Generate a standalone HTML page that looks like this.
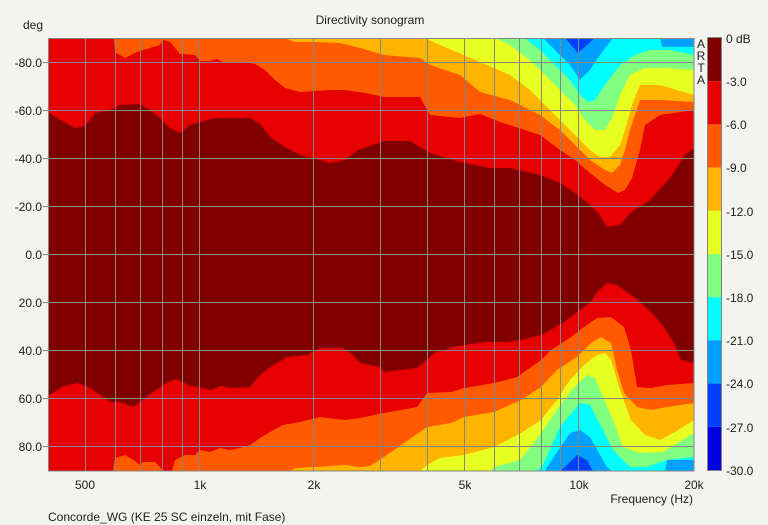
<!DOCTYPE html>
<html><head><meta charset="utf-8"><style>
html,body{margin:0;padding:0;background:#f3f3f0;}
svg{display:block;font-family:"Liberation Sans",sans-serif;font-size:12px;fill:#202020;}
</style></head><body>
<svg width="768" height="525" viewBox="0 0 768 525" xmlns="http://www.w3.org/2000/svg">
<rect x="0" y="0" width="768" height="525" fill="#f3f3f0"/>
<defs><clipPath id="pc"><rect x="48" y="38" width="646" height="433"/></clipPath></defs>
<g clip-path="url(#pc)">
<rect x="48" y="38" width="646" height="433" fill="#0040ff"/>
<!-- b8: light blue -->
<polygon fill="#00a0ff" points="48,38 565,38 578,53 595,38 694,38 694,471 593,471 587,460 577,455 565,467 560,471 48,471"/>
<!-- b7: cyan -->
<polygon fill="#00ffff" points="48,38 543,38 555,50 570,65 580,80 590,70 600,55 613,38 660,38 662,47 694,47 694,460 667,460 665,471 612,471 607,467 590,437 580,430 570,433 547,467 545,471 48,471"/>
<!-- b6: green -->
<polygon fill="#80ff80" points="48,38 525,38 540,50 555,65 570,80 580,95 588,102 595,100 605,85 620,65 635,55 650,50 670,50 694,55 694,457 667,460 647,467 630,467 613,450 603,430 590,405 580,403 560,427 542,467 535,471 48,471"/>
<!-- b5: yellow -->
<polygon fill="#e8ff22" points="48,38 495,38 510,45 530,60 545,75 560,90 575,105 585,120 595,130 605,130 612,118 620,95 630,75 645,68 665,68 694,70 694,433 663,452 640,453 623,447 613,420 603,397 595,378 587,375 570,392 557,410 540,435 520,460 495,467 490,471 48,471"/>
<!-- b4: orange -->
<polygon fill="#ffb400" points="48,38 425,38 440,45 464,55 480,62 510,75 530,90 545,105 560,120 575,135 590,150 600,157 610,157 620,145 625,130 632,105 640,85 660,85 694,95 694,420 675,432 660,440 645,435 631,420 620,390 611,360 605,353 597,355 584,365 570,380 557,400 541,420 521,433 494,447 464,455 440,458 427,465 420,471 48,471"/>
<!-- b3: orange-red -->
<polygon fill="#ff5a00" points="48,38 285,38 295,42 313,42 340,43 360,48 384,55 420,58 430,65 460,75 480,92 510,100 540,115 560,130 575,145 590,160 605,170 612,173 620,165 625,150 630,130 640,100 660,100 694,102 694,403 667,407 651,410 637,407 624,393 617,370 611,343 601,337 591,343 577,357 557,370 541,387 521,400 494,412 464,417 451,423 427,427 384,457 370,466 360,467 345,465 317,467 295,468 290,471 48,471"/>
<!-- b2: red -->
<polygon fill="#e60000" points="48,38 114,38 115,52 125,58 137,52 150,48 160,45 163,40 170,42 175,48 180,54 195,55 200,61 210,61 217,59 225,63 250,63 255,64 265,70 275,80 285,88 300,92 330,90 345,90 365,93 384,97 420,97 430,115 460,118 480,114 500,122 540,135 560,150 575,160 590,173 605,185 618,193 625,190 632,178 640,150 645,125 660,115 694,110 694,383 667,385 651,388 637,387 631,350 624,327 611,317 597,318 584,327 571,337 551,350 541,360 517,377 494,383 464,388 451,392 427,393 417,407 384,413 360,418 345,420 320,417 300,422 283,425 270,432 260,438 250,445 240,448 230,450 220,448 210,452 200,450 195,455 185,455 175,460 172,471 163,471 160,467 155,462 143,462 140,465 135,461 125,455 115,458 113,471 48,471"/>
<!-- b1: dark red -->
<polygon fill="#800000" points="48,112 60,120 75,128 85,126 95,113 110,110 120,105 140,104 150,110 160,118 170,128 180,133 190,125 200,122 215,118 250,118 260,124 270,137 285,147 300,155 313,158 330,163 345,160 358,150 384,141 410,141 430,153 460,162 490,168 510,168 540,175 560,183 575,193 590,205 600,215 607,227 620,225 630,213 650,200 670,178 685,155 694,148 694,363 681,360 674,343 664,327 651,312 634,297 617,285 607,283 597,292 591,302 577,312 564,322 547,332 541,335 521,340 507,342 484,342 464,345 454,347 434,353 427,360 417,368 384,372 380,367 360,363 353,355 343,348 320,348 307,355 287,357 270,367 260,375 250,387 233,388 220,386 210,390 200,387 190,386 177,379 168,382 153,392 143,400 133,407 120,402 110,402 100,395 90,388 78,383 63,386 53,393 48,395"/>
</g>
<!-- grid -->
<g stroke="#858585" stroke-width="1">
<line x1="48" y1="62.5" x2="694" y2="62.5"/><line x1="48" y1="110.5" x2="694" y2="110.5"/>
<line x1="48" y1="158.5" x2="694" y2="158.5"/><line x1="48" y1="206.5" x2="694" y2="206.5"/>
<line x1="48" y1="254.5" x2="694" y2="254.5"/><line x1="48" y1="302.5" x2="694" y2="302.5"/>
<line x1="48" y1="350.5" x2="694" y2="350.5"/><line x1="48" y1="398.5" x2="694" y2="398.5"/>
<line x1="48" y1="446.5" x2="694" y2="446.5"/>
<line x1="85.5" y1="38" x2="85.5" y2="471"/><line x1="115.5" y1="38" x2="115.5" y2="471"/>
<line x1="140.5" y1="38" x2="140.5" y2="471"/><line x1="162.5" y1="38" x2="162.5" y2="471"/>
<line x1="182.5" y1="38" x2="182.5" y2="471"/><line x1="199.5" y1="38" x2="199.5" y2="471"/>
<line x1="313.5" y1="38" x2="313.5" y2="471"/><line x1="380.5" y1="38" x2="380.5" y2="471"/>
<line x1="427.5" y1="38" x2="427.5" y2="471"/><line x1="464.5" y1="38" x2="464.5" y2="471"/>
<line x1="494.5" y1="38" x2="494.5" y2="471"/><line x1="519.5" y1="38" x2="519.5" y2="471"/>
<line x1="541.5" y1="38" x2="541.5" y2="471"/><line x1="560.5" y1="38" x2="560.5" y2="471"/>
<line x1="578.5" y1="38" x2="578.5" y2="471"/>
<line x1="43" y1="62.5" x2="48" y2="62.5"/><line x1="43" y1="110.5" x2="48" y2="110.5"/>
<line x1="43" y1="158.5" x2="48" y2="158.5"/><line x1="43" y1="206.5" x2="48" y2="206.5"/>
<line x1="43" y1="254.5" x2="48" y2="254.5"/><line x1="43" y1="302.5" x2="48" y2="302.5"/>
<line x1="43" y1="350.5" x2="48" y2="350.5"/><line x1="43" y1="398.5" x2="48" y2="398.5"/>
<line x1="43" y1="446.5" x2="48" y2="446.5"/>
</g>
<rect x="48.5" y="38.5" width="645.5" height="432.5" fill="none" stroke="#858585"/>
<!-- y labels -->
<g text-anchor="end">
<text x="42" y="67">-80.0</text><text x="42" y="115">-60.0</text><text x="42" y="163">-40.0</text>
<text x="42" y="211">-20.0</text><text x="42" y="259">0.0</text><text x="42" y="307">20.0</text>
<text x="42" y="355">40.0</text><text x="42" y="403">60.0</text><text x="42" y="451">80.0</text>
</g>
<text x="23" y="29">deg</text>
<text x="370" y="24" text-anchor="middle">Directivity sonogram</text>
<g text-anchor="middle">
<text x="85" y="489">500</text><text x="200" y="489">1k</text><text x="314" y="489">2k</text>
<text x="465" y="489">5k</text><text x="579" y="489">10k</text><text x="694" y="489">20k</text>
</g>
<text x="693" y="503" text-anchor="end">Frequency (Hz)</text>
<text x="48" y="521">Concorde_WG (KE 25 SC einzeln, mit Fase)</text>
<g text-anchor="middle"><text x="701" y="48">A</text><text x="701" y="60">R</text><text x="701" y="72">T</text><text x="701" y="84">A</text></g>
<!-- colorbar -->
<rect x="708" y="38" width="13" height="43.2" fill="#800000"/>
<rect x="708" y="81.2" width="13" height="43.2" fill="#e60000"/>
<rect x="708" y="124.4" width="13" height="43.2" fill="#ff5a00"/>
<rect x="708" y="167.6" width="13" height="43.2" fill="#ffb400"/>
<rect x="708" y="210.8" width="13" height="43.2" fill="#e8ff22"/>
<rect x="708" y="254" width="13" height="43.2" fill="#80ff80"/>
<rect x="708" y="297.2" width="13" height="43.2" fill="#00ffff"/>
<rect x="708" y="340.4" width="13" height="43.2" fill="#00a0ff"/>
<rect x="708" y="383.6" width="13" height="43.2" fill="#0040ff"/>
<rect x="708" y="426.8" width="13" height="43.2" fill="#0000e0"/>
<rect x="707.5" y="37.5" width="14" height="433" fill="none" stroke="#858585"/>
<g>
<text x="726" y="43">0 dB</text><text x="726" y="86">-3.0</text><text x="726" y="129">-6.0</text>
<text x="726" y="172">-9.0</text><text x="726" y="216">-12.0</text><text x="726" y="259">-15.0</text>
<text x="726" y="302">-18.0</text><text x="726" y="345">-21.0</text><text x="726" y="388">-24.0</text>
<text x="726" y="432">-27.0</text><text x="726" y="475">-30.0</text>
</g>
</svg>
</body></html>
